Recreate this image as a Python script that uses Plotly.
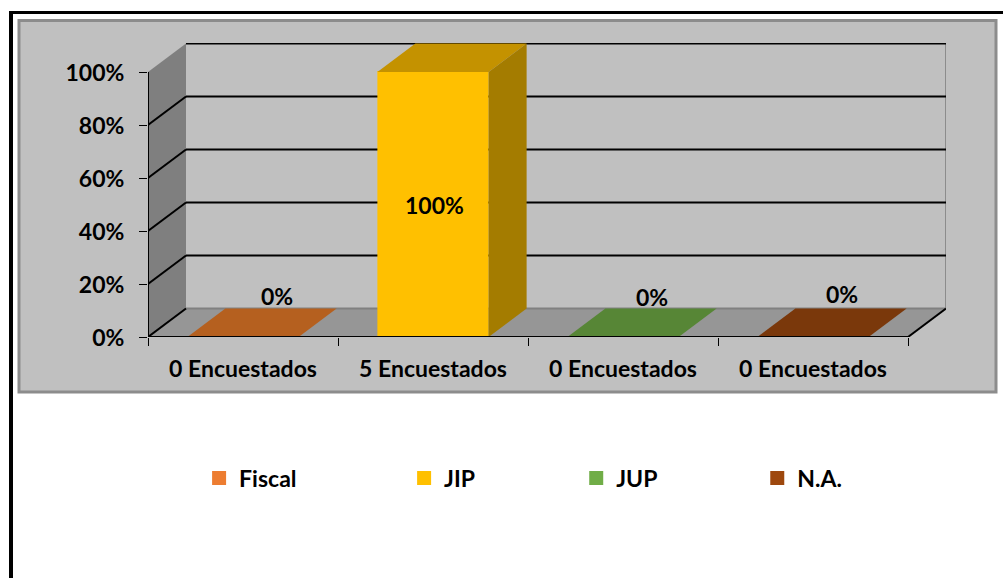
import plotly.graph_objects as go

categories = ['0 Encuestados', '5 Encuestados', '0 Encuestados', '0 Encuestados']
series = ['Fiscal', 'JIP', 'JUP', 'N.A.']
values = [0, 1, 0, 0]
y_ticks = [0, 0.2, 0.4, 0.6, 0.8, 1]
y_labels = ['0%', '20%', '40%', '60%', '80%', '100%']

colors = ['#ED7D31', '#FFC000', '#70AD47', '#9E480E']
top_colors = ['#B5601F', '#C49200', '#578636', '#7A380B']
side_colors = ['#98501F', '#A47C00', '#48702E', '#652E09']

W, H = 1003, 578
FONT = dict(family='Lato', size=23, color='black', weight=700)

# size of the 3d offset, in axis units
DX = 0.2
DY = 0.1075
BAR_W = 0.575

fig = go.Figure()

# bars and legend, every series has its own legend so the gaps can be placed
legend_x = [0.1985, 0.4029, 0.5745, 0.7550]
for i, name in enumerate(series):
    fig.add_trace(go.Bar(
        x=[i], y=[values[i]], width=BAR_W, name=name,
        marker=dict(color=colors[i], line=dict(color=colors[i], width=2)),
        legend='legend' if i == 0 else 'legend%d' % (i + 1),
        hoverinfo='skip',
    ))

# top and side faces
hw = (BAR_W + 2 / 190) / 2
for i, v in enumerate(values):
    fig.add_trace(go.Scatter(
        x=[i - hw, i + hw, i + hw + DX, i - hw + DX, i - hw],
        y=[v, v, v + DY, v + DY, v],
        fill='toself', fillcolor=top_colors[i], mode='none',
        showlegend=False, hoverinfo='skip',
    ))
    fig.add_trace(go.Scatter(
        x=[i + hw, i + hw + DX, i + hw + DX, i + hw, i + hw],
        y=[0, DY, v + DY, v, 0],
        fill='toself', fillcolor=side_colors[i], mode='none',
        showlegend=False, hoverinfo='skip',
    ))

x0, x1 = -0.5, len(categories) - 0.5

shapes = [
    # outer frame and grey panel
    dict(type='line', xref='paper', yref='paper', x0=11 / W, x1=11 / W, y0=0, y1=1 - 11 / H,
         line=dict(color='black', width=4)),
    dict(type='line', xref='paper', yref='paper', x0=9 / W, x1=1, y0=1 - 12.5 / H, y1=1 - 12.5 / H,
         line=dict(color='black', width=3)),
    dict(type='rect', xref='paper', yref='paper', x0=19 / W, x1=996 / W, y0=1 - 392 / H, y1=1 - 20.5 / H,
         fillcolor='#C0C0C0', line=dict(color='#8C8C8C', width=3), layer='below'),
    # side wall and floor
    dict(type='path', path='M %f,0 L %f,%f L %f,%f L %f,1 Z' % (x0, x0 + DX, DY, x0 + DX, 1 + DY, x0),
         fillcolor='#7F7F7F', line_width=0, layer='below'),
    dict(type='path', path='M %f,0 L %f,%f L %f,%f L %f,0 Z' % (x0, x0 + DX, DY, x1 + DX, DY, x1),
         fillcolor='#969696', line_width=0, layer='below'),
    # back wall edges
    dict(type='line', x0=x1 + DX, x1=x1 + DX, y0=DY, y1=1 + DY, line=dict(color='#8C8C8C', width=2), layer='below'),
    dict(type='line', x0=x0 + DX, x1=x1 + DX, y0=DY, y1=DY, line=dict(color='#808080', width=2), layer='below'),
    # axis lines
    dict(type='line', x0=x0, x1=x0, y0=0, y1=1, line=dict(color='black', width=2)),
    dict(type='line', x0=x0, x1=x1, y0=0, y1=0, line=dict(color='black', width=2)),
    dict(type='line', x0=x1, x1=x1 + DX, y0=0, y1=DY, line=dict(color='black', width=2)),
]

# gridlines run up the side wall then along the back
for t in y_ticks[1:]:
    shapes.append(dict(type='line', x0=x0 + DX, x1=x1 + DX, y0=t + DY, y1=t + DY,
                       line=dict(color='black', width=2), layer='below'))
for t in y_ticks[:-1]:
    shapes.append(dict(type='line', x0=x0, x1=x0 + DX, y0=t, y1=t + DY,
                       line=dict(color='black', width=2), layer='below'))

# data labels
label_shift_x = [34, 1, 29, 29]
label_shift_y = [41, 0, 40, 43]
annotations = []
for i, v in enumerate(values):
    annotations.append(dict(
        x=i, y=v / 2, text='%d%%' % (v * 100), showarrow=False, font=FONT,
        xshift=label_shift_x[i], yshift=label_shift_y[i],
    ))

layout_legends = {}
for i, lx in enumerate(legend_x):
    key = 'legend' if i == 0 else 'legend%d' % (i + 1)
    layout_legends[key] = dict(
        x=lx, y=1 - 478 / H, xanchor='left', yanchor='middle', orientation='h',
        bgcolor='rgba(0,0,0,0)', font=FONT, itemclick=False, itemdoubleclick=False,
    )

fig.update_layout(
    width=W, height=H,
    margin=dict(l=0, r=0, t=0, b=0, autoexpand=False),
    paper_bgcolor='white', plot_bgcolor='rgba(0,0,0,0)',
    barmode='overlay',
    font=FONT,
    shapes=shapes,
    annotations=annotations,
    xaxis=dict(
        domain=[148 / W, 946 / W], range=[x0, x1 + DX],
        tickmode='array', tickvals=list(range(len(categories))), ticktext=categories,
        ticks='', showgrid=False, zeroline=False, showline=False,
        ticklabelstandoff=16,
        minor=dict(tickmode='array', tickvals=[k - 0.5 for k in range(len(categories) + 1)],
                   ticks='outside', ticklen=8, tickwidth=1, tickcolor='black', showgrid=False),
    ),
    yaxis=dict(
        domain=[1 - 337 / H, 1 - 43 / H], range=[0, 1 + 29 / 265],
        tickmode='array', tickvals=y_ticks, ticktext=y_labels,
        ticks='outside', ticklen=8, tickwidth=1, tickcolor='black',
        showgrid=False, zeroline=False, showline=False, ticklabelstandoff=10,
        ticklabelshift=1,
    ),
    **layout_legends,
)

fig.write_html('out.html', config=dict(displayModeBar=False),
               post_script="document.body.style.margin='0';")
